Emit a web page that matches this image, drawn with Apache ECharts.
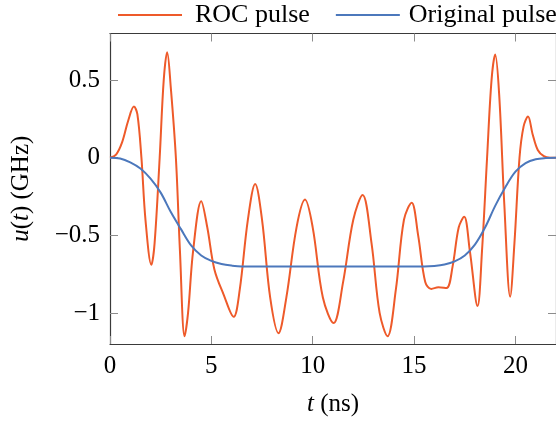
<!DOCTYPE html>
<html>
<head>
<meta charset="utf-8">
<script src="https://cdn.jsdelivr.net/npm/echarts@6/dist/echarts.min.js"></script>
<style>
html,body{margin:0;padding:0;background:#fff;}
#chart{width:556px;height:422px;}
</style>
</head>
<body>
<div id="chart"></div>
<script>
// ROC pulse (red)
const tRoc = [0,0.3,0.6,0.9,1.18,1.35,1.55,1.75,2.04,2.2,2.45,2.65,2.82,3.0,3.25,3.45,3.68,3.85,4.1,4.5,4.8,5.15,5.6,6.1,6.4,6.8,7.16,7.5,7.9,8.31,8.7,9.2,9.62,10.0,10.5,11.03,11.5,12.0,12.46,12.9,13.3,13.69,14.1,14.5,14.88,15.2,15.55,15.85,16.2,16.6,16.9,17.2,17.47,17.75,18.13,18.35,18.6,18.82,19.0,19.2,19.45,19.74,19.95,20.2,20.4,20.62,20.85,21.1,21.4,21.7,22];
const uRoc = [0,0.02,0.1,0.24,0.33,0.28,0.0,-0.4,-0.69,-0.55,0.0,0.5,0.68,0.45,0.0,-0.6,-1.15,-1.0,-0.6,-0.28,-0.45,-0.72,-0.88,-1.025,-0.85,-0.4,-0.17,-0.4,-0.9,-1.13,-0.9,-0.45,-0.27,-0.45,-0.9,-1.065,-0.8,-0.4,-0.24,-0.55,-1.0,-1.15,-0.85,-0.4,-0.29,-0.5,-0.8,-0.845,-0.835,-0.84,-0.7,-0.45,-0.38,-0.6,-0.955,-0.6,0.0,0.5,0.665,0.4,-0.3,-0.895,-0.55,0.0,0.2,0.265,0.15,0.05,0.01,0.0,0.0];
// Original pulse (blue)
const tOrig = [0,0.5,1,1.5,2,2.5,3,3.5,4,4.5,5,5.5,6,6.5,8,10,12,14,15.5,16,16.5,17,17.5,18,18.5,19,19.5,20,20.5,21,21.5,22];
const uOrig = [0,-0.005,-0.03,-0.07,-0.135,-0.225,-0.35,-0.46,-0.565,-0.63,-0.665,-0.685,-0.695,-0.7,-0.7,-0.7,-0.7,-0.7,-0.7,-0.697,-0.688,-0.668,-0.63,-0.56,-0.45,-0.31,-0.19,-0.09,-0.035,-0.01,-0.002,0];
// Axes
const xTicks = [0,5,10,15,20];
const yTicks = [-1,-0.5,0,0.5];
const seriesNames = ['ROC pulse','Original pulse'];

const FONT = '"Liberation Serif","DejaVu Serif",serif';
const RED = '#EE5A2A';
const BLUE = '#4C78BC';
const fmt = v => (v < 0 ? '\u2212' + Math.abs(v) : String(v));

const frame = {onZero:false, lineStyle:{color:'#3a3a3a',width:1.2}};
const tick = (vals) => ({show:true,inside:true,length:8,customValues:vals,lineStyle:{color:'#8c8c8c',width:1}});

const chart = echarts.init(document.getElementById('chart'), null, {renderer:'canvas'});
chart.setOption({
  animation:false,
  backgroundColor:'#fff',
  textStyle:{fontFamily:FONT},
  grid:{left:110,top:33.5,width:446.6,height:320.6,containLabel:false},
  legend:{
    left:118, top:2, padding:0, width:470,
    itemWidth:64, itemHeight:2, itemGap:26,
    icon:'rect',
    data:[
      {name:seriesNames[0], textStyle:{padding:[0,0,0,8]}},
      {name:seriesNames[1], textStyle:{padding:[0,0,0,4]}}
    ],
    textStyle:{fontFamily:FONT,fontSize:26,color:'#000'}
  },
  xAxis:[{
    type:'value', min:0, max:22, position:'bottom',
    axisLine:frame, axisTick:tick(xTicks), splitLine:{show:false},
    axisLabel:{customValues:xTicks,formatter:fmt,fontFamily:FONT,fontSize:25,color:'#000',margin:10},
    name:'{i|t} (ns)', nameLocation:'middle', nameGap:48,
    nameTextStyle:{fontFamily:FONT,fontSize:25,color:'#000',rich:{i:{fontStyle:'italic',fontFamily:FONT,fontSize:25,color:'#000'}}}
  },{
    type:'value', min:0, max:22, position:'top',
    axisLine:frame, axisTick:tick(xTicks), axisLabel:{show:false}, splitLine:{show:false}
  }],
  yAxis:[{
    type:'value', min:-1.2, max:0.8, position:'left',
    axisLine:frame, axisTick:tick(yTicks), splitLine:{show:false},
    axisLabel:{customValues:yTicks,formatter:fmt,fontFamily:FONT,fontSize:25,color:'#000',margin:10},
    name:'{i|u}({i|t}) (GHz)', nameLocation:'middle', nameGap:76, nameRotate:90,
    nameTextStyle:{fontFamily:FONT,fontSize:25,color:'#000',rich:{i:{fontStyle:'italic',fontFamily:FONT,fontSize:25,color:'#000'}}}
  },{
    type:'value', min:-1.2, max:0.8, position:'right',
    axisLine:frame, axisTick:tick(yTicks), axisLabel:{show:false}, splitLine:{show:false}
  }],
  series:[{
    name:seriesNames[0], type:'line', smooth:0.35, showSymbol:false, symbol:'none',
    data:tRoc.map((t,i)=>[t,uRoc[i]]),
    lineStyle:{color:RED,width:2}, itemStyle:{color:RED}, z:3
  },{
    name:seriesNames[1], type:'line', smooth:0.35, showSymbol:false, symbol:'none',
    data:tOrig.map((t,i)=>[t,uOrig[i]]),
    lineStyle:{color:BLUE,width:2}, itemStyle:{color:BLUE}, z:4
  }]
});
</script>
</body>
</html>
